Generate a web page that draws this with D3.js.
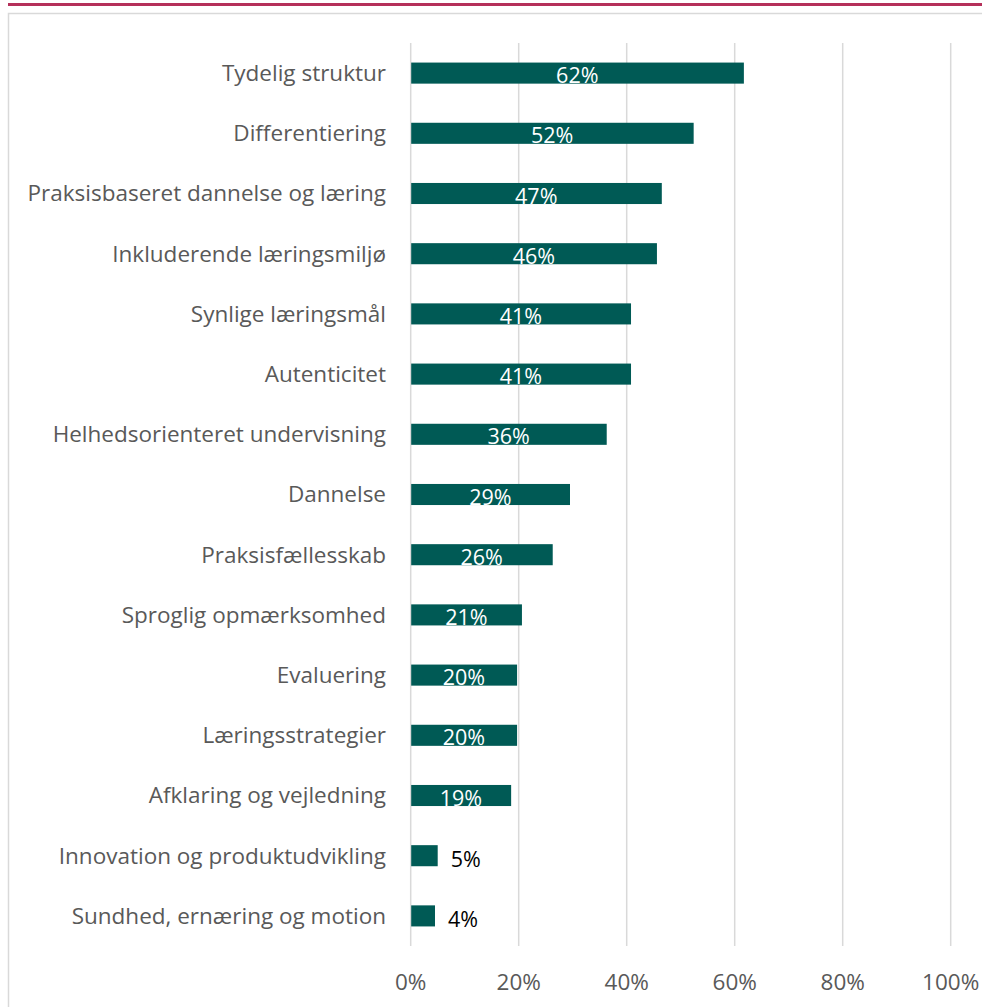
<!DOCTYPE html>
<html><head><meta charset="utf-8">
<script src="https://cdn.jsdelivr.net/npm/d3@7/dist/d3.min.js"></script>
<style>body{margin:0;background:#fff;}svg{display:block;}</style>
</head><body><svg id="c" width="982" height="1007"></svg>
<script>
const categories = ["Tydelig struktur","Differentiering","Praksisbaseret dannelse og læring","Inkluderende læringsmiljø","Synlige læringsmål","Autenticitet","Helhedsorienteret undervisning","Dannelse","Praksisfællesskab","Sproglig opmærksomhed","Evaluering","Læringsstrategier","Afklaring og vejledning","Innovation og produktudvikling","Sundhed, ernæring og motion"];
const values = [61.7,52.4,46.5,45.6,40.8,40.8,36.3,29.5,26.3,20.6,19.7,19.7,18.6,5.0,4.5];
const labels = ["62%","52%","47%","46%","41%","41%","36%","29%","26%","21%","20%","20%","19%","5%","4%"];
const ticks = [0,20,40,60,80,100];

const svg = d3.select("#c");
const font = "'Open Sans', 'Noto Sans', sans-serif";
svg.append("rect").attr("x",8).attr("y",3).attr("width",974).attr("height",3).attr("fill","#b5305a");
svg.append("path").attr("d","M8.5,1007 V13.5 H982").attr("fill","none").attr("stroke","#d9d9d9").attr("stroke-width",1.5);

const x = d3.scaleLinear().domain([0,100]).range([410.7,950.7]);
const y = d3.scaleBand().domain(categories).range([43,946]).paddingInner(0.65).paddingOuter(0.325);

const g = svg.append("g");
g.selectAll("line.grid").data(ticks).join("line").attr("class","grid")
 .attr("x1",d=>x(d)).attr("x2",d=>x(d)).attr("y1",43).attr("y2",946)
 .attr("stroke","#d9d9d9").attr("stroke-width",1.5);

g.selectAll("rect.bar").data(values).join("rect").attr("class","bar")
 .attr("x",x(0)+0.5).attr("y",(d,i)=>y(categories[i]))
 .attr("width",d=>x(d)-x(0)-0.5).attr("height",y.bandwidth())
 .attr("fill","#005a55");

g.selectAll("text.val").data(values).join("text").attr("class","val")
 .attr("x",(d,i)=> d>10 ? (x(0)+x(d))/2 : x(d)+13)
 .attr("y",(d,i)=>y(categories[i])+y.bandwidth()+(d>10?-0.5:1))
 .attr("text-anchor",d=>d>10?"middle":"start")
 .attr("fill",d=>d>10?"#ffffff":"#000000")
 .attr("font-family",font).attr("font-size",21.5)
 .text((d,i)=>labels[i]);

g.selectAll("text.cat").data(categories).join("text").attr("class","cat")
 .attr("x",386).attr("y",d=>y(d)+y.bandwidth()/2)
 .attr("dy","0.35em").attr("text-anchor","end")
 .attr("fill","#595959").attr("font-family",font).attr("font-size",22.5)
 .text(d=>d);

g.selectAll("text.tick").data(ticks).join("text").attr("class","tick")
 .attr("x",d=>x(d)).attr("y",990).attr("text-anchor","middle")
 .attr("fill","#595959").attr("font-family",font).attr("font-size",22.5)
 .text(d=>d+"%");
</script></body></html>
